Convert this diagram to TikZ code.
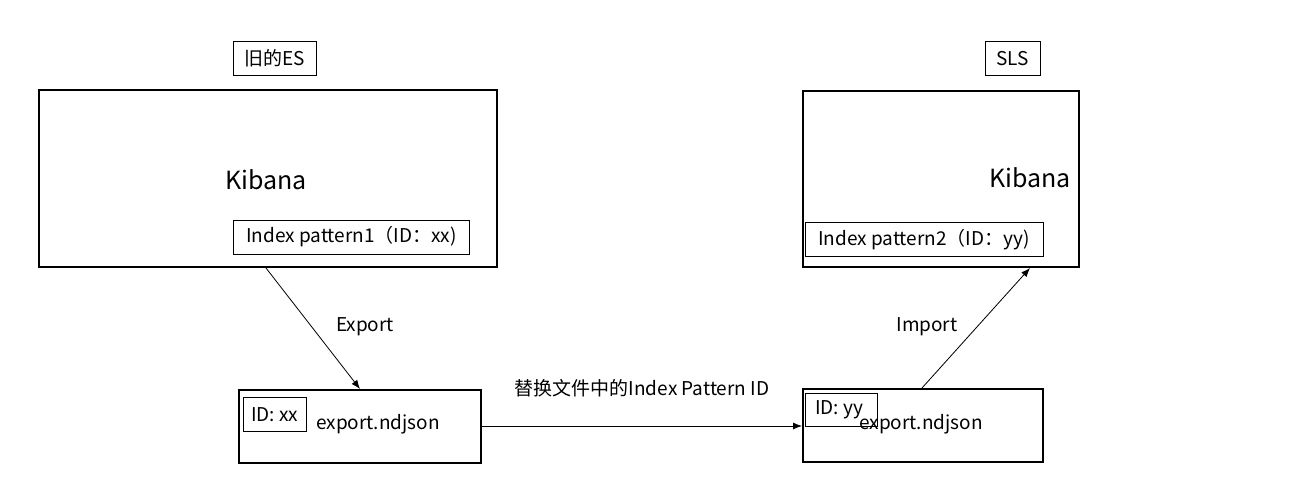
\documentclass[tikz,border=0pt]{standalone}
\usepackage{fontspec}
\setmainfont{Noto Sans CJK SC}
\usetikzlibrary{arrows.meta}
\begin{document}
\begin{tikzpicture}[x=1pt,y=-1pt,
  thickbox/.style={draw=black,line width=2pt,inner sep=0pt,anchor=north west},
  thinbox/.style={draw=black,line width=0.8pt,inner sep=0pt,anchor=north west},
  txt/.style={font=\fontsize{19}{22}\selectfont,inner sep=0pt},
  bigtxt/.style={font=\fontsize{25}{29}\selectfont,inner sep=0pt},
  conn/.style={draw=black,line width=0.8pt,-{Latex[length=9pt,width=7pt]}}]
\useasboundingbox[fill=white] (0,0) rectangle (1296,500);
% left side
\node[thinbox,minimum width=83pt,minimum height=34pt] (oldesbox) at (233,41) {};
\node[txt] (oldestxt) at (oldesbox.center) {旧的ES};
\node[thickbox,minimum width=458pt,minimum height=177pt] (kbox1) at (38,89) {};
\node[bigtxt] (kib1) at (266,180) {Kibana};
\node[thinbox,minimum width=236pt,minimum height=34pt] (ipbox1) at (233,220) {};
\node[txt] (ip1) at (351.5,237) {Index pattern1（ID：xx)};
% bottom left
\node[thickbox,minimum width=242pt,minimum height=73pt] (ebox1) at (238,389) {};
\node[txt] (exp1) at (378,424) {export.ndjson};
\node[thinbox,minimum width=63pt,minimum height=34pt] (idbox1) at (243,397) {};
\node[txt] (id1) at (idbox1.center) {ID: xx};
% right side
\node[thinbox,minimum width=55pt,minimum height=34pt] (slsbox) at (985,41) {};
\node[txt] (sls) at (slsbox.center) {SLS};
\node[thickbox,minimum width=276pt,minimum height=176pt] (kbox2) at (802,90) {};
\node[bigtxt] (kib2) at (1030,178) {Kibana};
\node[thinbox,minimum width=238pt,minimum height=34pt] (ipbox2) at (805,222) {};
\node[txt] (ip2) at (924,240) {Index pattern2（ID：yy)};
% bottom right
\node[thickbox,minimum width=240pt,minimum height=73pt] (ebox2) at (802,388) {};
\node[txt] (exp2) at (921,424) {export.ndjson};
\node[thinbox,minimum width=72pt,minimum height=33pt] (idbox2) at (805,393) {};
\node[txt] (id2) at (839,410) {ID: yy};
% connectors
\draw[conn] (kbox1.south -| 266,0) -- (ebox1.north -| 360,0);
\draw[conn] (ebox1.east |- 0,426) -- (ebox2.west |- 0,426);
\draw[conn] (ebox2.north -| 922,0) -- (kbox2.south -| 1030,0);
\node[txt] (lexport) at (365,327) {Export};
\node[txt] (lrep) at (642,388) {替换文件中的Index Pattern ID};
\node[txt] (limport) at (927,327) {Import};
\end{tikzpicture}
\end{document}
